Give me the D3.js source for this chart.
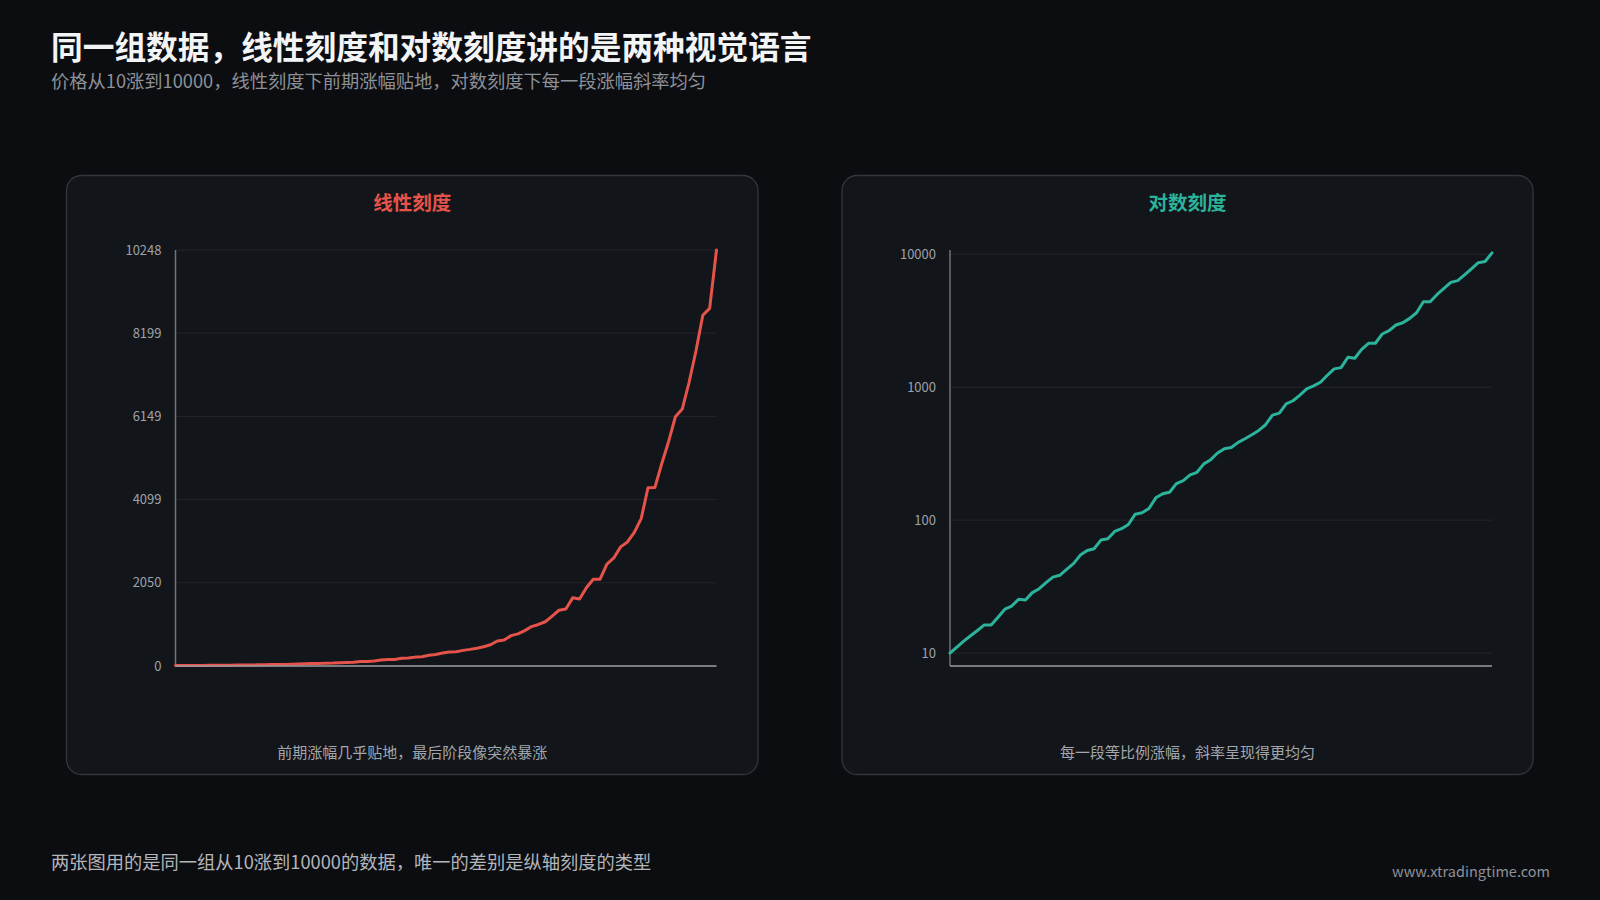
<!DOCTYPE html>
<html>
<head>
<meta charset="utf-8">
<script src="https://cdn.jsdelivr.net/npm/d3@7/dist/d3.min.js"></script>
<style>
  html, body { margin: 0; padding: 0; background: #0c0d11; }
  svg { display: block; }
  text { font-family: "Noto Sans CJK SC", "Noto Sans", sans-serif; }
</style>
</head>
<body>
<svg id="chart" width="1600" height="900"></svg>
<script>
// ---- data ----
const periods = d3.range(80); // period index 0..79
const prices = [
  10, 11.1, 12.3, 13.5, 14.8, 16.3, 16.3, 18.6, 21.4, 22.6,
  25.4, 25.1, 28.5, 30.5, 33.9, 37.3, 38.5, 42.7, 47.1, 54.6,
  59.2, 61.0, 70.8, 72.4, 82.2, 86.3, 92.7, 110.9, 113.5, 122.3,
  147.2, 157.8, 162.2, 188.4, 198.4, 218.8, 229.1, 264.9, 285.1, 319.9,
  344.7, 352.4, 384.6, 409.7, 439.0, 473.2, 521.9, 616.6, 638.3, 748.2,
  790.7, 871.0, 971.6, 1023, 1090, 1230, 1373, 1403, 1679, 1650,
  1928, 2138, 2140, 2512, 2661, 2935, 3055, 3293, 3631, 4391,
  4395, 4983, 5526, 6140, 6330, 6990, 7760, 8640, 8810, 10248
];
const linearTicks = [0, 2050, 4099, 6149, 8199, 10248];
const logTicks = [10, 100, 1000, 10000];

const texts = {
  title: "同一组数据，线性刻度和对数刻度讲的是两种视觉语言",
  subtitle: "价格从10涨到10000，线性刻度下前期涨幅贴地，对数刻度下每一段涨幅斜率均匀",
  leftTitle: "线性刻度",
  rightTitle: "对数刻度",
  leftCaption: "前期涨幅几乎贴地，最后阶段像突然暴涨",
  rightCaption: "每一段等比例涨幅，斜率呈现得更均匀",
  footer: "两张图用的是同一组从10涨到10000的数据，唯一的差别是纵轴刻度的类型",
  site: "www.xtradingtime.com"
};

// ---- styles ----
const C = {
  bg: "#0c0d11",
  panel: "#121519",
  panelStroke: "#33363d",
  grid: "#23262c",
  axisV: "#6f737a",
  axisH: "#9a9da3",
  tick: "#9ea2a9",
  red: "#e5534b",
  teal: "#2bb39b",
  title: "#f3f4f6",
  sub: "#8d9198",
  caption: "#a3a7ad",
  footer: "#b3b6bb",
  site: "#8d9198"
};

const svg = d3.select("#chart");
svg.append("rect").attr("width", 1600).attr("height", 900).attr("fill", C.bg);

svg.append("text").attr("x", 51).attr("y", 59)
  .attr("font-size", 31.7).attr("font-weight", 700).attr("fill", C.title)
  .text(texts.title);
svg.append("text").attr("x", 51).attr("y", 88)
  .attr("font-size", 18.25).attr("fill", C.sub)
  .text(texts.subtitle);

svg.append("text").attr("x", 51).attr("y", 869)
  .attr("font-size", 18.25).attr("fill", C.footer)
  .text(texts.footer);
svg.append("text").attr("x", 1550).attr("y", 877)
  .attr("text-anchor", "end")
  .attr("font-size", 14.5).attr("fill", C.site)
  .text(texts.site);

function panel(opt) {
  const g = svg.append("g");
  g.append("rect")
    .attr("x", opt.px).attr("y", 175.5)
    .attr("width", opt.pw).attr("height", 599)
    .attr("rx", 15).attr("ry", 15)
    .attr("fill", C.panel).attr("stroke", C.panelStroke).attr("stroke-width", 1.3);
  const cx = opt.px + opt.pw / 2;
  g.append("text").attr("x", cx).attr("y", 210)
    .attr("text-anchor", "middle")
    .attr("font-size", 19.5).attr("font-weight", 700).attr("fill", opt.color)
    .text(opt.title);
  g.append("text").attr("x", cx).attr("y", 758)
    .attr("text-anchor", "middle")
    .attr("font-size", 15).attr("fill", C.caption)
    .text(opt.caption);

  const x = d3.scaleLinear().domain([0, periods.length - 1]).range([opt.x0, opt.x1]);
  const y = opt.y;

  // grid
  g.append("g").selectAll("line").data(opt.ticks).join("line")
    .attr("x1", opt.x0).attr("x2", opt.x1)
    .attr("y1", d => y(d)).attr("y2", d => y(d))
    .attr("stroke", C.grid).attr("stroke-width", 1);

  // y axis labels via d3 axis
  const ax = g.append("g").attr("transform", `translate(${opt.x0},0)`)
    .call(d3.axisLeft(y).tickValues(opt.ticks).tickSize(0).tickPadding(14)
      .tickFormat(d => String(d)));
  ax.select(".domain").remove();
  ax.selectAll("text")
    .attr("font-family", '"Noto Sans CJK SC", "Noto Sans", sans-serif')
    .attr("font-size", 13).attr("fill", C.tick);

  // axis lines
  g.append("line").attr("x1", opt.x0).attr("x2", opt.x0)
    .attr("y1", 250).attr("y2", 666)
    .attr("stroke", C.axisV).attr("stroke-width", 1.5);

  const line = d3.line().x((d, i) => x(periods[i])).y(d => y(d));
  g.append("path").datum(prices)
    .attr("d", line).attr("fill", "none")
    .attr("stroke", opt.color).attr("stroke-width", 3)
    .attr("stroke-linejoin", "round").attr("stroke-linecap", "round");

  g.append("line").attr("x1", opt.x0).attr("x2", opt.x1)
    .attr("y1", 666).attr("y2", 666)
    .attr("stroke", C.axisH).attr("stroke-width", 1.5);
}

const yLin = d3.scaleLinear().domain([0, d3.max(prices)]).range([666, 250]);
const yLog = d3.scaleLog().domain([d3.min(prices) * 0.8, d3.max(prices) * 1.05]).range([666, 250]);

panel({ px: 66.5, pw: 691.5, x0: 175.5, x1: 716.5, y: yLin, ticks: linearTicks,
  color: C.red, title: texts.leftTitle, caption: texts.leftCaption });
panel({ px: 842, pw: 691, x0: 950, x1: 1492, y: yLog, ticks: logTicks,
  color: C.teal, title: texts.rightTitle, caption: texts.rightCaption });
</script>
</body>
</html>
